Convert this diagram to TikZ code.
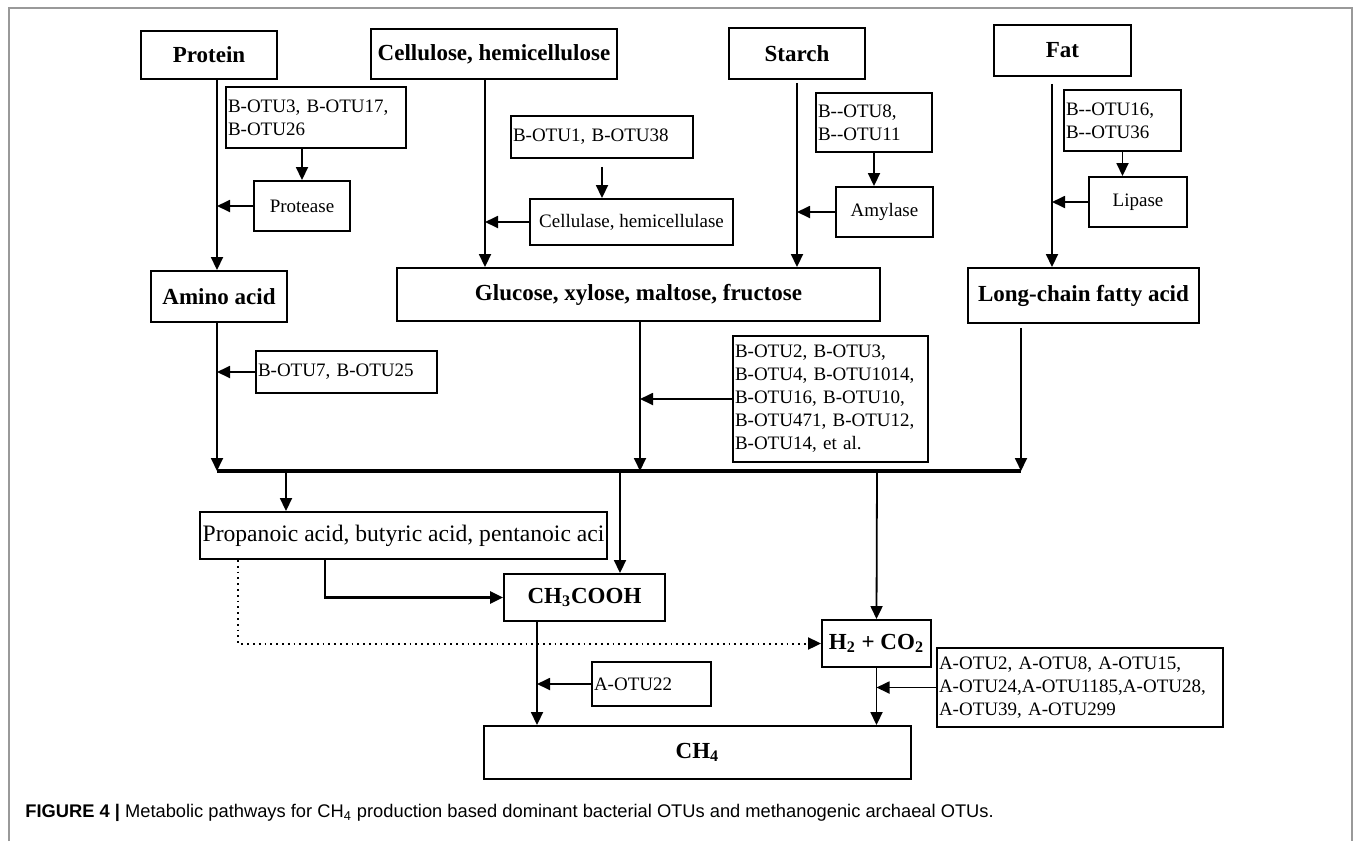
\documentclass[tikz,border=0pt]{standalone}
\usepackage{fontspec}
\setmainfont{Liberation Serif}
\setsansfont{Liberation Sans}
\usetikzlibrary{arrows.meta}

\newcommand{\otufont}{\fontsize{9.5}{11.5}\selectfont}
\newcommand{\labfont}{\fontsize{11.5}{13}\selectfont\bfseries}

\begin{document}
\begin{tikzpicture}[x=0.5pt,y=-0.5pt,
    box/.style 2 args={draw,line width=0.95pt,inner sep=0pt,
        minimum width=#1*0.5pt,minimum height=#2*0.5pt},
    otubox/.style 2 args={draw,line width=0.95pt,inner ysep=0pt,inner xsep=1pt,
        text width=#1*0.5pt-2pt,minimum height=#2*0.5pt,align=left,font=\otufont},
    lab/.style={font=\labfont},
    arr/.style={-{Triangle[length=6.5pt,width=6pt]},line width=0.9pt},
    elbow/.style={arr,line width=1.4pt},
    dotarr/.style={arr,dotted,line width=1pt},
    busline/.style={line width=1.7pt}]
    \useasboundingbox (0,0) rectangle (1355,841);
    % frame
    \draw[black!40,line width=0.8pt] (9,841) -- (9,8) -- (1352,8) -- (1352,841);

    % substrates
    \node[box={136}{48},lab] (protein) at (209,55) {Protein};
    \node[box={246}{50},lab] (cellulose) at (494,54) {Cellulose, hemicellulose};
    \node[box={136}{51},lab] (starch) at (797,53.5) {Starch};
    \node[box={137}{51},lab] (fat) at (1062.5,50.5) {Fat};

    % bacteria and enzymes
    \node[otubox={180}{61}] (otuA) at (316,117.5) {B-OTU3, B-OTU17,\\B-OTU26};
    \node[box={96}{50},font=\otufont] (protease) at (302,206) {Protease};
    \node[otubox={182}{42}] (otuB) at (602,137) {B-OTU1, B-OTU38};
    \node[box={203}{46},font=\otufont] (cellulase) at (631.5,222) {Cellulase, hemicellulase};
    \node[otubox={116}{59}] (otuC) at (874,122.5) {B-{}-OTU8,\\B-{}-OTU11};
    \node[box={97}{50},font=\otufont] (amylase) at (884.5,212) {Amylase};
    \node[otubox={117}{61}] (otuD) at (1122.5,120.5) {B-{}-OTU16,\\B-{}-OTU36};
    \node[box={98}{50},font=\otufont] (lipase) at (1138,202) {Lipase};

    % hydrolysis products
    \node[box={136}{51},lab] (amino) at (219,296.5) {Amino acid};
    \node[box={483}{53},lab] (glucose) at (638.5,294.5) {Glucose, xylose, maltose, fructose};
    \node[box={231}{55},lab] (longchain) at (1083.5,295.5) {Long-chain fatty acid};
    \node[otubox={181}{42}] (otuG) at (346.5,372) {B-OTU7, B-OTU25};
    \node[otubox={195}{126}] (otuH) at (830.5,399) {B-OTU2, B-OTU3,\\B-OTU4, B-OTU1014,\\B-OTU16, B-OTU10,\\B-OTU471, B-OTU12,\\B-OTU14, et al.};

    % acids and gases
    \node[box={407}{47},font=\fontsize{11.8}{13}\selectfont] (propanoic) at (403.5,535.5) {Propanoic acid, butyric acid, pentanoic aci};
    \node[box={161}{47},lab] (acetic) at (584.5,597.5) {CH\textsubscript{3}COOH};
    \node[box={109}{47},lab] (hydrogen) at (876.5,643.5) {H\textsubscript{2} + CO\textsubscript{2}};
    \node[otubox={119}{44}] (otuI) at (651.5,684) {A-OTU22};
    \node[otubox={286}{79}] (otuJ) at (1080,687.5) {A-OTU2, A-OTU8, A-OTU15,\\A-OTU24,A-OTU1185,A-OTU28,\\A-OTU39, A-OTU299};
    \node[box={427}{53},lab] (methane) at (697.5,752.5) {CH\textsubscript{4}};

    % line positions
    \coordinate (colC) at (485,150);
    \coordinate (colF) at (1052,150);
    \coordinate (colAc) at (537,690);
    \coordinate (busL) at (217,471);
    \coordinate (busP) at (286,471);
    \coordinate (busA) at (620,471);
    \coordinate (busG) at (640,471);
    \coordinate (busH) at (877,471);
    \coordinate (busR) at (1021,471);
    \coordinate (elbowA) at (325,560);
    \coordinate (elbowB) at (238,560);

    % hydrolysis
    \draw[arr] (protein.south -| busL) -- (busL |- amino.north);
    \draw[arr] (otuA.south -| protease.north) -- (protease.north);
    \draw[arr] (protease.west) -- (protease.west -| busL);
    \draw[arr] (cellulose.south -| colC) -- (colC |- glucose.north);
    \draw[arr,shorten <=4pt] (otuB.south) -- (otuB.south |- cellulase.north);
    \draw[arr] (cellulase.west) -- (cellulase.west -| colC);
    \draw[arr,shorten <=1.5pt] (starch.south) -- (starch.south |- glucose.north);
    \draw[arr] (otuC.south) -- (otuC.south |- amylase.north);
    \draw[arr] (amylase.west) -- (amylase.west -| starch.south);
    \draw[arr,shorten <=3.5pt] (fat.south -| colF) -- (colF |- longchain.north);
    \draw[arr] (otuD.south) -- (otuD.south |- lipase.north);
    \draw[arr] (lipase.west) -- (lipase.west -| colF);

    % fermentation
    \draw[arr] (amino.south -| busL) -- (busL);
    \draw[arr] (otuG.west) -- (otuG.west -| busL);
    \draw[arr] (glucose.south -| busG) -- (busG);
    \draw[arr] (otuH.west) -- (otuH.west -| busG);
    \draw[arr,shorten <=2pt] (longchain.south -| busR) -- (busR);
    \draw[busline] (busL) -- (busR);
    \draw[arr] (busP) -- (busP |- propanoic.north);
    \draw[arr] (busA) -- (busA |- acetic.north);
    \draw[arr] (busH) -- (hydrogen.north);
    \draw[elbow] (propanoic.south -| elbowA) |- (acetic.west);
    \draw[dotarr] (propanoic.south -| elbowB) |- (hydrogen.west);

    % methanogenesis
    \draw[arr] (acetic.south -| colAc) -- (colAc |- methane.north);
    \draw[arr] (otuI.west) -- (otuI.west -| colAc);
    \draw[arr] (hydrogen.south) -- (hydrogen.south |- methane.north);
    \draw[arr] (otuJ.west) -- (otuJ.west -| hydrogen.south);

    % caption
    \node[anchor=west,inner sep=0pt,font=\sffamily\fontsize{9.15}{11}\selectfont] (caption) at (25,813)
        {\textbf{FIGURE 4 |} Metabolic pathways for CH\textsubscript{4} production based dominant bacterial OTUs and methanogenic archaeal OTUs.};
\end{tikzpicture}
\end{document}
